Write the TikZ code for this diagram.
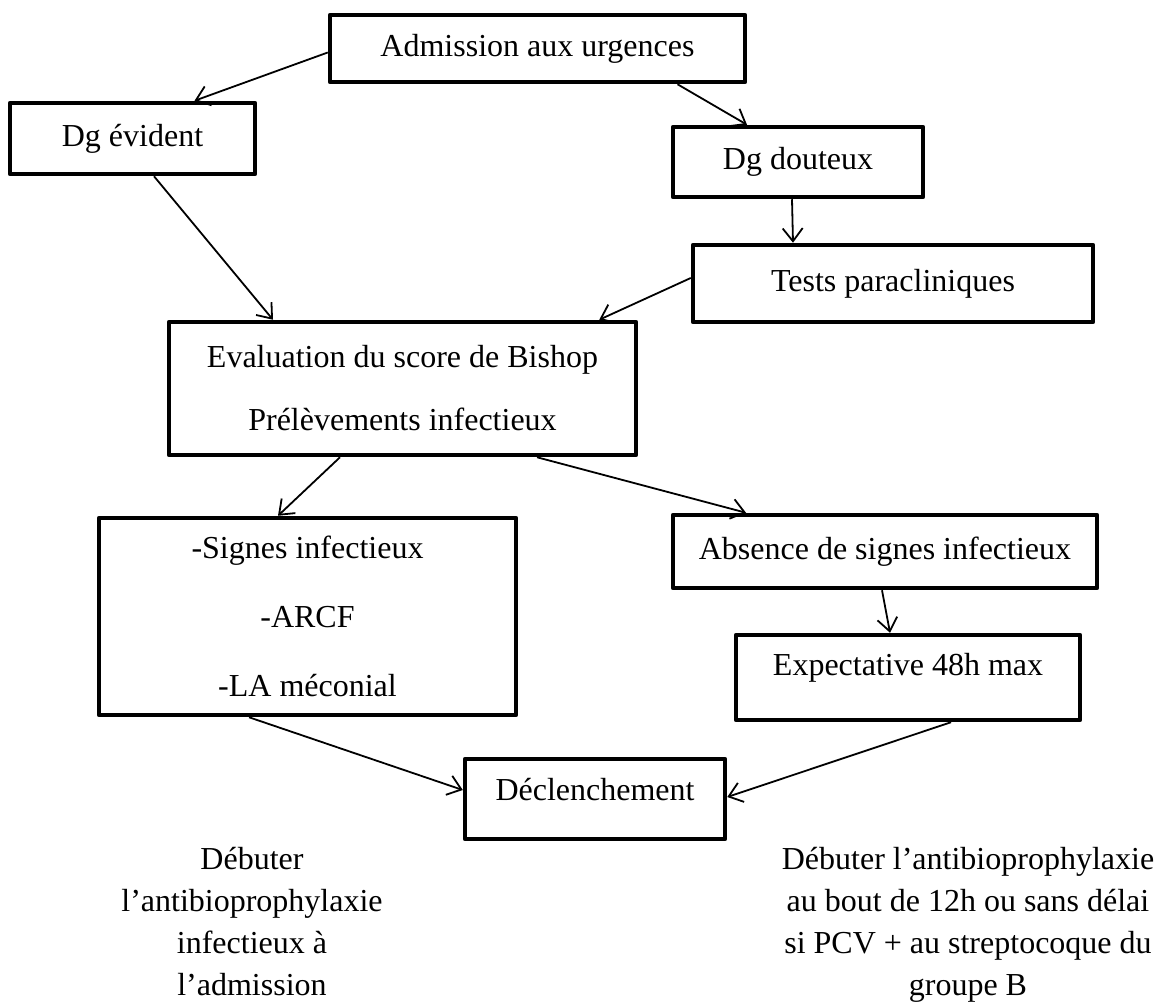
\documentclass[tikz,border=0pt]{standalone}
\usepackage{fontspec}
\setmainfont{Liberation Serif}
\usetikzlibrary{arrows.meta}

\begin{document}
\begin{tikzpicture}[x=1pt,y=-1pt,
  box/.style={draw, line width=4.5pt, line join=round, inner sep=0pt, align=center,
    font=\fontsize{32}{38}\selectfont},
  link/.style={line width=1.8pt,
    -{Straight Barb[length=13pt,width=20pt,line width=1.8pt]}},
  note/.style={align=center, inner sep=0pt, anchor=north,
    font=\fontsize{32}{42}\selectfont}]
\useasboundingbox (0,0) rectangle (1156,1008);
\fill[white] (0,0) rectangle (1156,1008);

% boxes
\node[box, minimum width=415pt, minimum height=67pt] (adm) at (537.5,48.5) {Admission aux urgences};
\node[box, minimum width=245pt, minimum height=71pt] (dge) at (132.5,138.5) {Dg évident};
\node[box, minimum width=250pt, minimum height=70pt] (dgd) at (798,162) {Dg douteux};
\node[box, minimum width=400pt, minimum height=77pt] (tests) at (893,283.5) {Tests paracliniques};
\node[box, minimum width=467pt, minimum height=133pt, font=\fontsize{32}{63}\selectfont] (eval) at (402.5,388.5)
  {Evaluation du score de Bishop\\Prélèvements infectieux};
\node[box, minimum width=417pt, minimum height=197pt, font=\fontsize{32}{69}\selectfont] (signes) at (307.5,616.5)
  {-Signes infectieux\\-ARCF\\-LA méconial};
\node[box, minimum width=424pt, minimum height=73pt] (absence) at (885,551.5) {Absence de signes infectieux};
\node[box, minimum width=344pt, minimum height=85pt, text depth=27pt] (expect) at (908,677.5) {Expectative 48h max};
\node[box, minimum width=260pt, minimum height=80pt, text depth=20pt] (decl) at (595,799) {Déclenchement};

% closing notes
\node[note] (noteL) at (252,847) {Débuter\\l’antibioprophylaxie\\infectieux à\\l’admission};
\node[note] (noteR) at (968,847) {Débuter l’antibioprophylaxie\\au bout de 12h ou sans délai\\si PCV + au streptocoque du\\groupe B};

% connectors
\draw[link] ([yshift=-4pt]adm.west) -- ([xshift=62pt]dge.north);
\draw[link] ([xshift=140pt]adm.south) -- ([xshift=-51pt]dgd.north);
\draw[link] ([xshift=21.5pt]dge.south) -- ([xshift=-129.5pt]eval.north);
\draw[link] ([xshift=-6pt]dgd.south) -- ([xshift=-100pt]tests.north);
\draw[link] ([yshift=5.5pt]tests.west) -- ([xshift=-39pt]eval.north east);
\draw[link] ([xshift=-62.5pt]eval.south) -- ([xshift=-29.5pt]signes.north);
\draw[link] ([xshift=134.5pt]eval.south) -- ([xshift=-139pt]absence.north);
\draw[link] ([xshift=-3pt]absence.south) -- ([xshift=-18pt]expect.north);
\draw[link] ([xshift=-58.5pt]signes.south) -- ([yshift=9pt]decl.west);
\draw[link] ([xshift=43pt]expect.south) -- ([yshift=2pt]decl.east);
\end{tikzpicture}
\end{document}
